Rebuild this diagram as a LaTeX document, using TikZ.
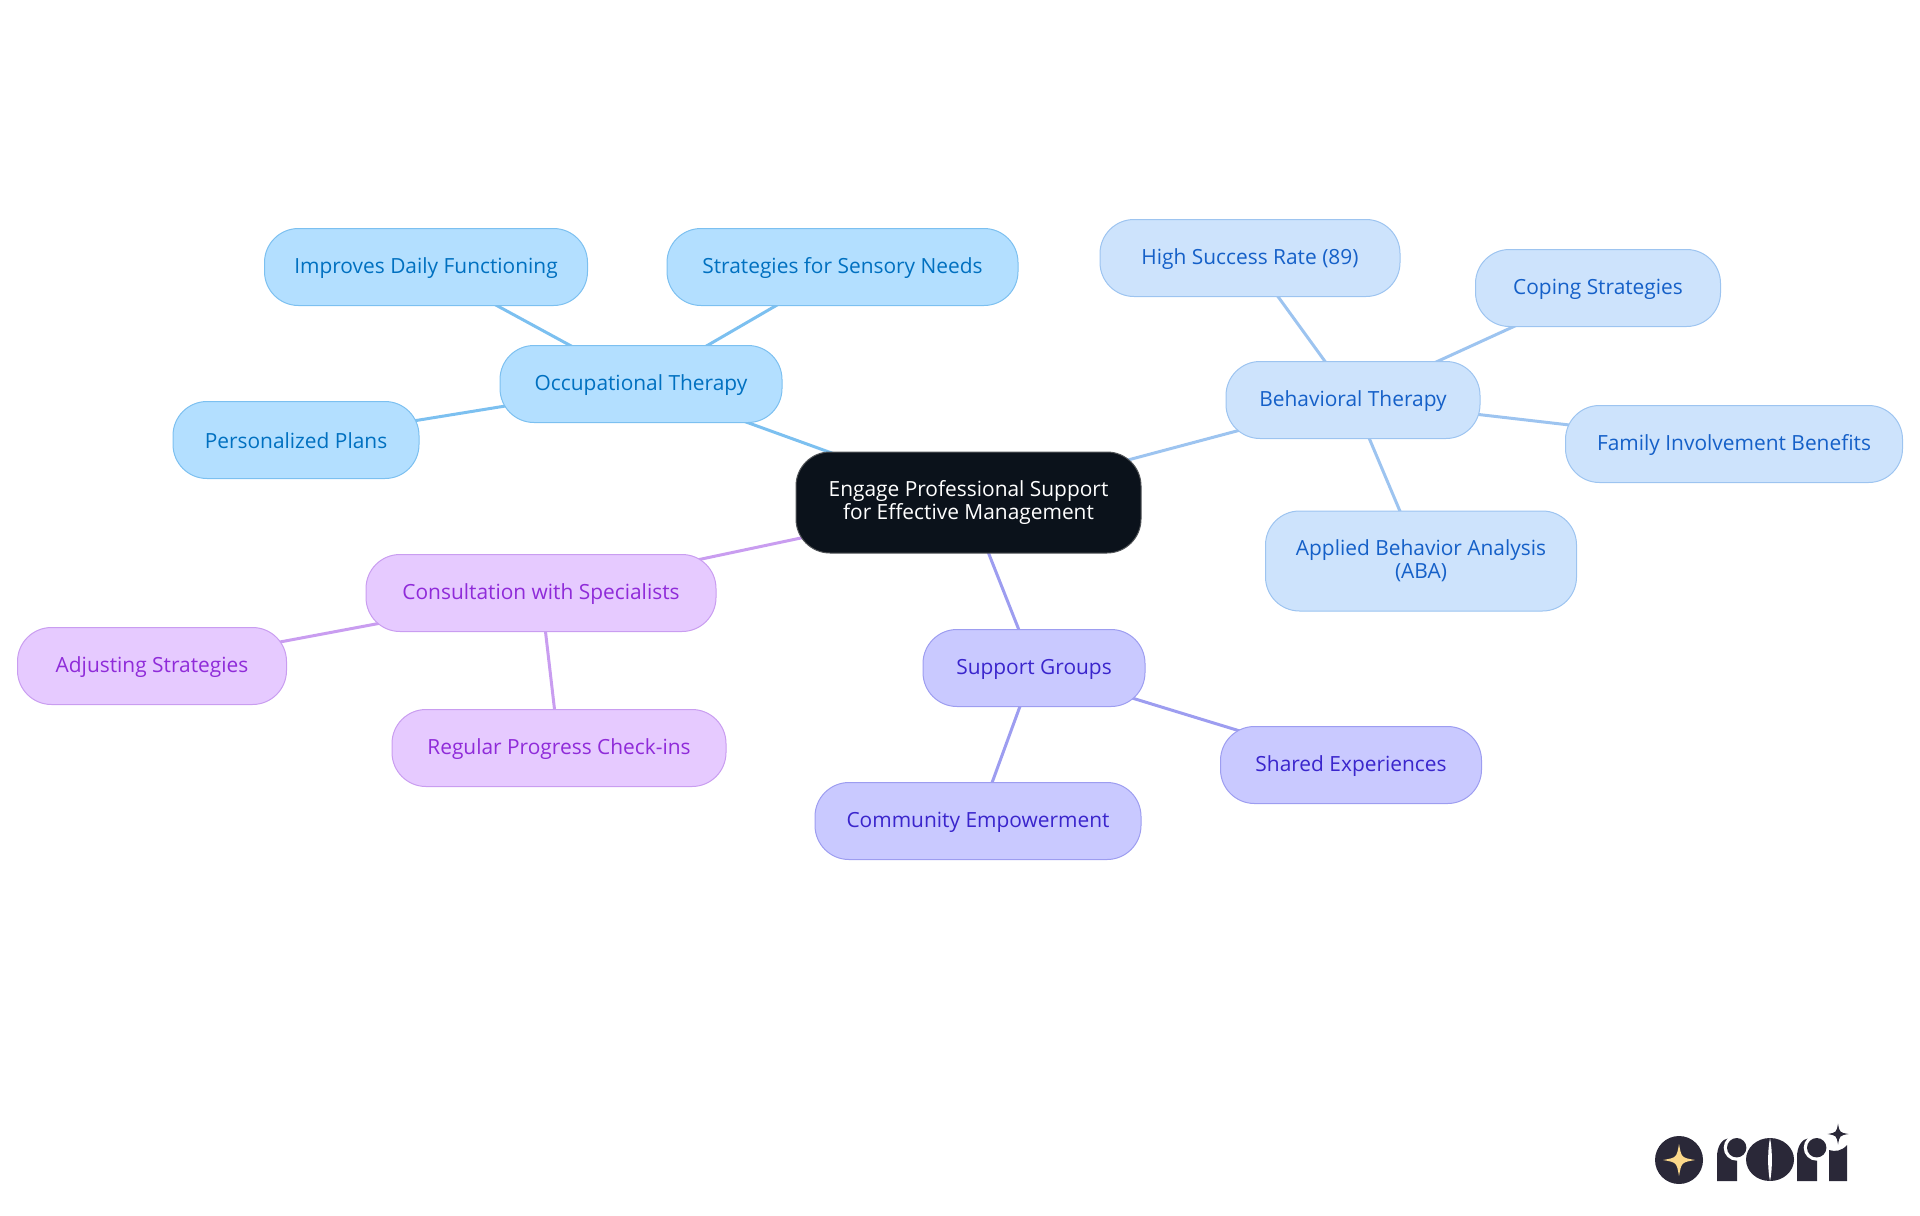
\documentclass[tikz,border=0pt]{standalone}
\usepackage{fontspec}
\setmainfont{Open Sans}
\usetikzlibrary{backgrounds}
\definecolor{rootfill}{HTML}{0B121B}
\definecolor{otfill}{HTML}{B3DFFF}
\definecolor{otline}{HTML}{7CC0F0}
\definecolor{ottext}{HTML}{0070C0}
\definecolor{btfill}{HTML}{CDE3FC}
\definecolor{btline}{HTML}{9DC4F0}
\definecolor{bttext}{HTML}{1560C8}
\definecolor{sgfill}{HTML}{C9C9FF}
\definecolor{sgline}{HTML}{9D9DF0}
\definecolor{sgtext}{HTML}{3A25CC}
\definecolor{csfill}{HTML}{E6CAFF}
\definecolor{csline}{HTML}{C99DF0}
\definecolor{cstext}{HTML}{8F2BD9}
\definecolor{logodark}{HTML}{2A2838}
\definecolor{logogold}{HTML}{FBD88A}
\newcommand{\boxstrut}{\rule[-.9pt]{0pt}{10.1pt}}
\tikzset{
	x=.5pt,y=-.5pt,
	box/.style={draw,rectangle,rounded corners=17pt,line width=.5pt,align=center,inner sep=0pt,minimum height=38.5pt,font=\fontsize{10.45}{11.5}\selectfont,execute at begin node=\boxstrut,execute at end node=\boxstrut},
	rootbox/.style={box,fill=rootfill,draw=gray!60!rootfill,text=white},
	otbox/.style={box,fill=otfill,draw=otline,text=ottext},
	btbox/.style={box,fill=btfill,draw=btline,text=bttext},
	sgbox/.style={box,fill=sgfill,draw=sgline,text=sgtext},
	csbox/.style={box,fill=csfill,draw=csline,text=cstext},
	edge/.style={line width=1.5pt}
}
\newcommand{\sparkle}[4]{\fill[#1] (#2-#4,#3) .. controls (#2-.15*#4,#3-.15*#4) .. (#2,#3-#4) .. controls (#2+.15*#4,#3-.15*#4) .. (#2+#4,#3) .. controls (#2+.15*#4,#3+.15*#4) .. (#2,#3+#4) .. controls (#2-.15*#4,#3+.15*#4) .. cycle;}
\newcommand{\logor}[1]{
	\fill[logodark] (#1,1181) -- (#1,1157) .. controls (#1,1146) and (#1+5,1139) .. (#1+12,1138) -- (#1+20,1140) -- (#1+20,1181) -- cycle;
	\fill[white] (#1+19.7,1147.7) circle[radius=13];
	\fill[logodark] (#1+19.7,1147.7) circle[radius=9.7];
}
\begin{document}
\begin{tikzpicture}
	\useasboundingbox (0,0) rectangle (1920,1215);

	\node[rootbox,minimum width=172.5pt,minimum height=50.5pt] (root) at (968.5,502.5) {Engage Professional Support\\for Effective Management};

	\node[otbox,minimum width=141pt] (ot) at (641,384) {Occupational Therapy};
	\node[otbox,minimum width=161.5pt] (daily) at (426,267) {Improves Daily Functioning};
	\node[otbox,minimum width=175.5pt] (sensory) at (842.5,267) {Strategies for Sensory Needs};
	\node[otbox,minimum width=123pt] (plans) at (296,440) {Personalized Plans};

	\node[btbox,minimum width=127pt] (bt) at (1353,400) {Behavioral Therapy};
	\node[btbox,minimum width=150pt] (rate) at (1250,258) {High Success Rate (89)};
	\node[btbox,minimum width=122.5pt] (coping) at (1598,288) {Coping Strategies};
	\node[btbox,minimum width=168.5pt] (family) at (1734,444) {Family Involvement Benefits};
	\node[btbox,minimum width=155.5pt,minimum height=50pt] (aba) at (1421,561) {Applied Behavior Analysis\\(ABA)};

	\node[sgbox,minimum width=111pt] (sg) at (1034,668) {Support Groups};
	\node[sgbox,minimum width=130.5pt] (shared) at (1351,765) {Shared Experiences};
	\node[sgbox,minimum width=163pt] (community) at (978,821) {Community Empowerment};

	\node[csbox,minimum width=175pt] (cs) at (541,593) {Consultation with Specialists};
	\node[csbox,minimum width=134.5pt] (adjust) at (152,666) {Adjusting Strategies};
	\node[csbox,minimum width=167pt] (checkin) at (559,748) {Regular Progress Check-ins};

	\begin{scope}[on background layer]
		\draw[edge,otline] (root.center) -- (ot.center);
		\draw[edge,otline] (ot.center) -- (daily.center);
		\draw[edge,otline] (ot.center) -- (sensory.center);
		\draw[edge,otline] (ot.center) -- (plans.center);
		\draw[edge,btline] (root.center) -- (bt.center);
		\draw[edge,btline] (bt.center) -- (rate.center);
		\draw[edge,btline] (bt.center) -- (coping.center);
		\draw[edge,btline] (bt.center) -- (family.center);
		\draw[edge,btline] (bt.center) -- (aba.center);
		\draw[edge,sgline] (root.center) -- (sg.center);
		\draw[edge,sgline] (sg.center) -- (shared.center);
		\draw[edge,sgline] (sg.center) -- (community.center);
		\draw[edge,csline] (root.center) -- (cs.center);
		\draw[edge,csline] (cs.center) -- (adjust.center);
		\draw[edge,csline] (cs.center) -- (checkin.center);
	\end{scope}

	\fill[logodark] (1679,1160) circle[radius=24];
	\sparkle{logogold}{1679}{1160}{16}
	\logor{1717}
	\fill[logodark] (1770,1159.5) ellipse[x radius=24,y radius=21.5];
	\fill[white] (1770,1138) .. controls (1767.5,1150) and (1767.5,1170) .. (1770,1181) .. controls (1772.5,1170) and (1772.5,1150) .. (1770,1138) -- cycle;
	\logor{1797}
	\fill[logodark] (1829,1181) -- (1829,1150) .. controls (1835,1152) and (1842,1151) .. (1847,1145) -- (1847,1181) -- cycle;
	\sparkle{logodark}{1838}{1134}{10.5}
\end{tikzpicture}
\end{document}
